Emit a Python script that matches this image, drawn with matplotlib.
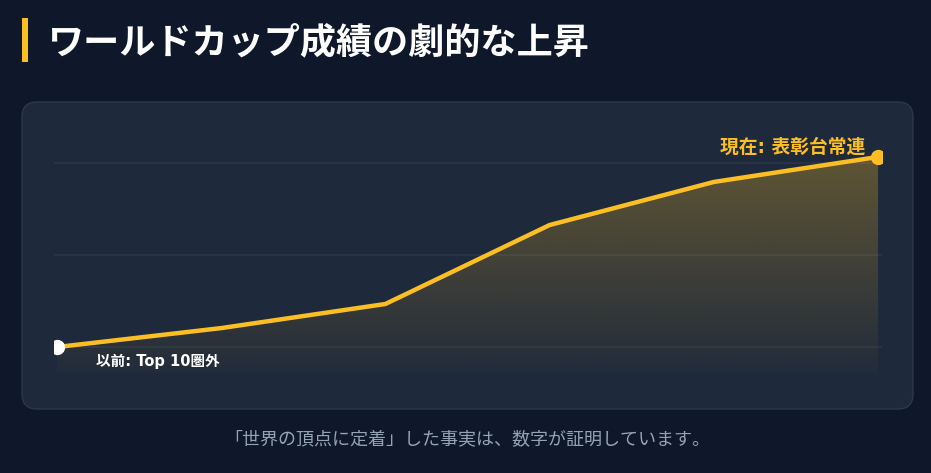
import matplotlib
matplotlib.use("Agg")
import matplotlib.pyplot as plt
import numpy as np
from matplotlib.patches import FancyBboxPatch, Rectangle, Polygon

plt.rcParams['font.family'] = ['Noto Sans CJK JP', 'DejaVu Sans']

# data (relative performance index)
stages = ['1', '2', '3', '4', '5', '6']
score = [0, 10.3, 23.4, 66.3, 89.7, 103.3]
grid_vals = [0, 50, 100]

title = 'ワールドカップ成績の劇的な上昇'
label_start = '以前: Top 10圏外'
label_end = '現在: 表彰台常連'
caption = '「世界の頂点に定着」した事実は、数字が証明しています。'

bg = '#0f172a'
panel = '#1e293b'
amber = '#fbbf24'
mixed = ['DejaVu Sans', 'Noto Sans CJK JP']

W, H = 931, 473
fig = plt.figure(figsize=(W / 100, H / 100), dpi=100)
fig.patch.set_facecolor(bg)

def px(x, y):
    return x / 100, (H - y) / 100

# panel
x0, y0 = px(22, 409)
fig.patches.append(FancyBboxPatch((x0, y0), 891 / 100, 307 / 100,
                                  boxstyle='round,pad=0,rounding_size=0.15',
                                  transform=fig.dpi_scale_trans, zorder=-1,
                                  facecolor=panel, edgecolor='#2c384c', lw=1))

# title + accent bar
bx, by = px(22, 62)
fig.patches.append(Rectangle((bx, by), 0.055, 0.44, transform=fig.dpi_scale_trans,
                             facecolor=amber, edgecolor='none'))
fig.text(47 / W, 1 - 43 / H, title, color='white', fontsize=26, fontweight='bold',
         va='center', ha='left')
fig.text(467 / W, 1 - 440 / H, caption, color='#94a3b8', fontsize=13,
         va='center', ha='center')

# chart axes
ax = fig.add_axes([54 / W, 1 - 373 / H, 828 / W, 233 / H])
ax.set_zorder(2)
ax.set_facecolor('none')
x = np.arange(len(stages))
for v in grid_vals:
    ax.axhline(v, color='#2b3649', lw=1.2, zorder=0)
ylo, yhi = -14.1, 112.5

# gradient fill under the line
grad = np.linspace(0, 1, 256).reshape(-1, 1)
cols = np.zeros((256, 1, 4))
cols[..., 0] = 251 / 255
cols[..., 1] = 191 / 255
cols[..., 2] = 36 / 255
cols[..., 3] = 0.02 + 0.30 * grad
im = ax.imshow(cols, extent=[x[0], x[-1], ylo, yhi], origin='lower',
               aspect='auto', zorder=1)
poly = Polygon(np.vstack([[x[0], ylo], np.column_stack([x, score]), [x[-1], ylo]]),
               closed=True, facecolor='none', edgecolor='none')
ax.add_patch(poly)
im.set_clip_path(poly)
ax.set_xlim(-0.018, 5.024)
ax.set_ylim(ylo, yhi)

ax.plot(x, score, color=amber, lw=3.2, solid_joinstyle='round', zorder=3)
ax.plot(x[0], score[0], 'o', color='white', ms=10, zorder=4)
ax.plot(x[-1], score[-1], 'o', color=amber, ms=10, zorder=4)

ax.annotate(label_start, (x[0], score[0]), xytext=(28, -10), textcoords='offset points',
            color='white', fontsize=10.5, fontweight='semibold', ha='left', va='center',
            family=mixed)
ax.annotate(label_end, (x[-1], score[-1]), xytext=(-9, 7), textcoords='offset points',
            color=amber, fontsize=13.5, fontweight='bold', ha='right', va='center',
            family=mixed, annotation_clip=False)

ax.set_xticks([])
ax.set_yticks([])
for s in ax.spines.values():
    s.set_visible(False)

fig.savefig('out.png', dpi=100, facecolor=bg)
